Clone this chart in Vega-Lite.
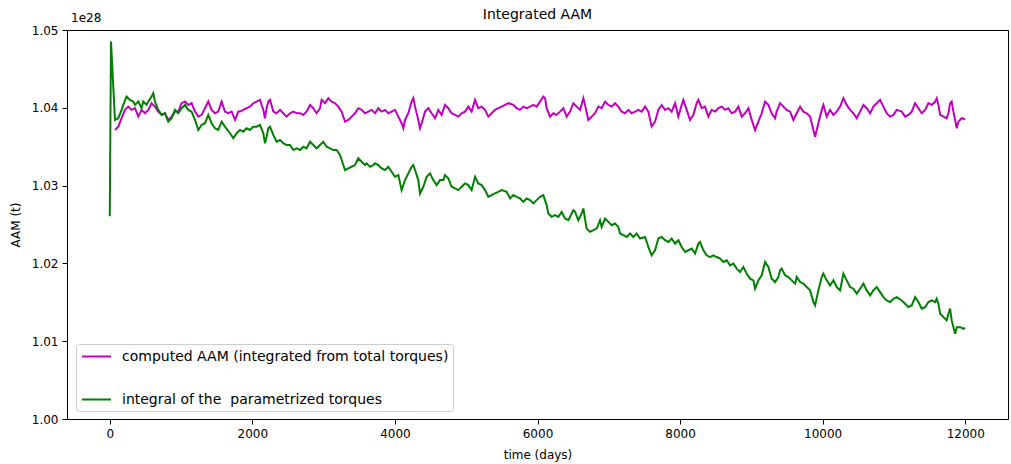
{
 "$schema": "https://vega.github.io/schema/vega-lite/v6.json",
 "width": 941,
 "height": 389,
 "autosize": {"type": "none"},
 "padding": {"left": 67, "top": 30, "right": 3, "bottom": 45},
 "background": "white",
 "title": {"text": "Integrated AAM", "fontSize": 14, "fontWeight": "normal", "font": "DejaVu Sans", "color": "#000", "offset": -10, "frame": "group", "anchor": "middle"},
 "config": {
  "view": {"stroke": "#000", "strokeWidth": 1},
  "axis": {"labelFont": "DejaVu Sans", "labelFontSize": 12, "labelColor": "#000", "titleFont": "DejaVu Sans", "titleFontSize": 12, "titleFontWeight": "normal", "titleColor": "#000", "tickColor": "#000", "tickSize": 5, "grid": false, "domain": false, "labelPadding": 4},
  "legend": {"orient": "none", "legendX": 9, "legendY": 314, "padding": 4, "strokeColor": "#cccccc", "fillColor": "#ffffff", "cornerRadius": 3, "symbolType": "M-0.87,0H3", "symbolStrokeWidth": 2, "symbolSize": 225, "labelFont": "DejaVu Sans", "labelFontSize": 14, "labelColor": "#000", "rowPadding": 27, "labelLimit": 600, "labelOffset": 25}
 },
 "encoding": {
  "x": {"field": "t", "type": "quantitative", "scale": {"domain": [-600, 12600], "nice": false, "zero": false}, "axis": {"values": [0, 2000, 4000, 6000, 8000, 10000, 12000], "format": "d", "title": "time (days)", "titlePadding": 10}},
  "y": {"field": "v", "type": "quantitative", "scale": {"domain": [1.0, 1.05], "nice": false, "zero": false}, "axis": {"values": [1.0, 1.01, 1.02, 1.03, 1.04, 1.05], "format": ".2f", "title": "AAM (t)", "titlePadding": 9}}
 },
 "layer": [
  {
   "data": {"values": [
{"t":73,"v":1.03715},{"t":119,"v":1.03758},{"t":166,"v":1.03866},{"t":213,"v":1.03973},{"t":260,"v":1.04015},{"t":306,"v":1.03973},{"t":354,"v":1.03995},{"t":400,"v":1.03887},{"t":446,"v":1.03973},{"t":494,"v":1.0393},{"t":540,"v":1.03973},{"t":586,"v":1.04059},{"t":634,"v":1.04015},{"t":680,"v":1.03951},{"t":727,"v":1.03909},{"t":774,"v":1.0393},{"t":820,"v":1.03844},{"t":867,"v":1.03887},{"t":915,"v":1.03951},{"t":961,"v":1.03951},{"t":1007,"v":1.04059},{"t":1055,"v":1.0408},{"t":1101,"v":1.04037},{"t":1148,"v":1.04059},{"t":1195,"v":1.03951},{"t":1242,"v":1.03887},{"t":1288,"v":1.03909},{"t":1336,"v":1.03995},{"t":1382,"v":1.0408},{"t":1428,"v":1.03973},{"t":1476,"v":1.0393},{"t":1522,"v":1.03951},{"t":1569,"v":1.0408},{"t":1616,"v":1.03951},{"t":1663,"v":1.0393},{"t":1709,"v":1.03951},{"t":1757,"v":1.03844},{"t":1803,"v":1.03951},{"t":1827,"v":1.03951},{"t":1873,"v":1.03973},{"t":1919,"v":1.03995},{"t":1967,"v":1.04015},{"t":2013,"v":1.04059},{"t":2060,"v":1.0408},{"t":2107,"v":1.04102},{"t":2154,"v":1.03973},{"t":2177,"v":1.03866},{"t":2200,"v":1.03995},{"t":2224,"v":1.0408},{"t":2248,"v":1.04102},{"t":2294,"v":1.03951},{"t":2340,"v":1.0393},{"t":2388,"v":1.03973},{"t":2434,"v":1.0393},{"t":2480,"v":1.03887},{"t":2528,"v":1.0393},{"t":2575,"v":1.03951},{"t":2621,"v":1.0393},{"t":2669,"v":1.0393},{"t":2715,"v":1.03909},{"t":2761,"v":1.03951},{"t":2809,"v":1.04037},{"t":2855,"v":1.03995},{"t":2901,"v":1.0393},{"t":2949,"v":1.03995},{"t":2972,"v":1.04102},{"t":3020,"v":1.04059},{"t":3066,"v":1.04124},{"t":3112,"v":1.0408},{"t":3160,"v":1.04059},{"t":3206,"v":1.04015},{"t":3252,"v":1.03951},{"t":3300,"v":1.03822},{"t":3346,"v":1.03844},{"t":3392,"v":1.03887},{"t":3440,"v":1.0393},{"t":3486,"v":1.03995},{"t":3533,"v":1.03973},{"t":3580,"v":1.0393},{"t":3627,"v":1.03951},{"t":3673,"v":1.03973},{"t":3721,"v":1.0393},{"t":3767,"v":1.03995},{"t":3813,"v":1.03951},{"t":3861,"v":1.03973},{"t":3907,"v":1.0393},{"t":3954,"v":1.03951},{"t":4001,"v":1.03973},{"t":4048,"v":1.03887},{"t":4094,"v":1.03802},{"t":4118,"v":1.03737},{"t":4142,"v":1.03844},{"t":4188,"v":1.0393},{"t":4234,"v":1.0408},{"t":4258,"v":1.04124},{"t":4282,"v":1.04015},{"t":4328,"v":1.03844},{"t":4352,"v":1.03737},{"t":4375,"v":1.03802},{"t":4422,"v":1.03951},{"t":4469,"v":1.03995},{"t":4515,"v":1.0393},{"t":4563,"v":1.03866},{"t":4609,"v":1.03973},{"t":4655,"v":1.03909},{"t":4703,"v":1.04037},{"t":4749,"v":1.03995},{"t":4795,"v":1.0393},{"t":4843,"v":1.03909},{"t":4889,"v":1.03887},{"t":4936,"v":1.0393},{"t":4983,"v":1.03951},{"t":5030,"v":1.04015},{"t":5076,"v":1.03951},{"t":5124,"v":1.04102},{"t":5170,"v":1.03995},{"t":5216,"v":1.04015},{"t":5264,"v":1.03973},{"t":5310,"v":1.03887},{"t":5357,"v":1.0393},{"t":5404,"v":1.03973},{"t":5451,"v":1.03995},{"t":5497,"v":1.04015},{"t":5545,"v":1.04037},{"t":5591,"v":1.04059},{"t":5661,"v":1.04037},{"t":5707,"v":1.03995},{"t":5755,"v":1.03973},{"t":5801,"v":1.04015},{"t":5848,"v":1.03995},{"t":5895,"v":1.04015},{"t":5942,"v":1.04037},{"t":5988,"v":1.04015},{"t":6036,"v":1.0408},{"t":6082,"v":1.04144},{"t":6106,"v":1.04124},{"t":6128,"v":1.03995},{"t":6176,"v":1.03887},{"t":6222,"v":1.0393},{"t":6269,"v":1.03909},{"t":6316,"v":1.03951},{"t":6363,"v":1.03995},{"t":6409,"v":1.03887},{"t":6457,"v":1.03951},{"t":6503,"v":1.04059},{"t":6549,"v":1.04015},{"t":6597,"v":1.03973},{"t":6643,"v":1.04124},{"t":6667,"v":1.04037},{"t":6713,"v":1.03844},{"t":6760,"v":1.03887},{"t":6807,"v":1.0393},{"t":6854,"v":1.04015},{"t":6900,"v":1.03995},{"t":6948,"v":1.0408},{"t":6994,"v":1.04037},{"t":7040,"v":1.04015},{"t":7088,"v":1.04059},{"t":7134,"v":1.04015},{"t":7181,"v":1.03951},{"t":7228,"v":1.0393},{"t":7275,"v":1.03973},{"t":7321,"v":1.0393},{"t":7369,"v":1.03951},{"t":7415,"v":1.03973},{"t":7461,"v":1.03951},{"t":7509,"v":1.04015},{"t":7555,"v":1.03951},{"t":7601,"v":1.03758},{"t":7649,"v":1.03822},{"t":7695,"v":1.03973},{"t":7742,"v":1.04037},{"t":7789,"v":1.03973},{"t":7836,"v":1.03995},{"t":7882,"v":1.03951},{"t":7930,"v":1.04059},{"t":7976,"v":1.03887},{"t":8022,"v":1.04037},{"t":8046,"v":1.04102},{"t":8093,"v":1.03973},{"t":8140,"v":1.03844},{"t":8186,"v":1.03909},{"t":8233,"v":1.04059},{"t":8257,"v":1.04102},{"t":8303,"v":1.03995},{"t":8351,"v":1.04015},{"t":8397,"v":1.03887},{"t":8443,"v":1.03973},{"t":8491,"v":1.03951},{"t":8538,"v":1.03995},{"t":8584,"v":1.04015},{"t":8631,"v":1.03973},{"t":8677,"v":1.03995},{"t":8724,"v":1.0393},{"t":8772,"v":1.03951},{"t":8818,"v":1.04015},{"t":8864,"v":1.03887},{"t":8912,"v":1.0393},{"t":8959,"v":1.03995},{"t":9005,"v":1.03844},{"t":9052,"v":1.03715},{"t":9098,"v":1.03822},{"t":9145,"v":1.0393},{"t":9192,"v":1.0408},{"t":9239,"v":1.04037},{"t":9285,"v":1.0393},{"t":9333,"v":1.03866},{"t":9355,"v":1.03951},{"t":9403,"v":1.04059},{"t":9449,"v":1.04015},{"t":9496,"v":1.03973},{"t":9543,"v":1.03951},{"t":9590,"v":1.03844},{"t":9636,"v":1.0393},{"t":9684,"v":1.04015},{"t":9729,"v":1.03951},{"t":9776,"v":1.0393},{"t":9824,"v":1.03887},{"t":9870,"v":1.03715},{"t":9894,"v":1.03629},{"t":9940,"v":1.03802},{"t":9987,"v":1.03973},{"t":10010,"v":1.04037},{"t":10057,"v":1.03887},{"t":10104,"v":1.03973},{"t":10151,"v":1.03909},{"t":10197,"v":1.03951},{"t":10245,"v":1.04015},{"t":10291,"v":1.04124},{"t":10337,"v":1.04037},{"t":10385,"v":1.03973},{"t":10431,"v":1.0393},{"t":10478,"v":1.03866},{"t":10525,"v":1.03951},{"t":10572,"v":1.04037},{"t":10618,"v":1.03995},{"t":10666,"v":1.0393},{"t":10712,"v":1.04015},{"t":10758,"v":1.04059},{"t":10806,"v":1.04102},{"t":10852,"v":1.04015},{"t":10898,"v":1.0393},{"t":10946,"v":1.03887},{"t":10993,"v":1.03909},{"t":11039,"v":1.03973},{"t":11109,"v":1.03951},{"t":11157,"v":1.03887},{"t":11203,"v":1.03909},{"t":11249,"v":1.03951},{"t":11297,"v":1.04059},{"t":11343,"v":1.03995},{"t":11390,"v":1.0393},{"t":11437,"v":1.03973},{"t":11484,"v":1.04059},{"t":11530,"v":1.04037},{"t":11578,"v":1.0408},{"t":11600,"v":1.04124},{"t":11624,"v":1.04037},{"t":11648,"v":1.03909},{"t":11694,"v":1.03887},{"t":11740,"v":1.03866},{"t":11764,"v":1.0393},{"t":11788,"v":1.04059},{"t":11810,"v":1.0408},{"t":11834,"v":1.03951},{"t":11858,"v":1.03844},{"t":11881,"v":1.03737},{"t":11904,"v":1.03822},{"t":11951,"v":1.03866},{"t":11999,"v":1.03853}
   ]},
   "mark": {"type": "line", "strokeWidth": 2},
   "encoding": {
    "color": {"datum": "computed AAM (integrated from total torques)", "type": "nominal", "scale": {"domain": ["computed AAM (integrated from total torques)", "integral of the \u00a0parametrized torques"], "range": ["#bf00bf", "#008000"]}, "legend": {"title": null}}
   }
  },
  {
   "data": {"values": [
{"t":0,"v":1.02607},{"t":17,"v":1.04853},{"t":73,"v":1.03844},{"t":119,"v":1.03866},{"t":166,"v":1.03973},{"t":189,"v":1.04037},{"t":236,"v":1.04144},{"t":283,"v":1.04102},{"t":330,"v":1.0408},{"t":354,"v":1.04037},{"t":400,"v":1.0408},{"t":446,"v":1.03995},{"t":470,"v":1.0408},{"t":516,"v":1.04037},{"t":540,"v":1.0408},{"t":586,"v":1.04144},{"t":610,"v":1.04188},{"t":634,"v":1.0408},{"t":680,"v":1.03973},{"t":727,"v":1.03909},{"t":774,"v":1.0393},{"t":820,"v":1.03822},{"t":867,"v":1.03866},{"t":915,"v":1.03973},{"t":961,"v":1.0393},{"t":1007,"v":1.03995},{"t":1055,"v":1.04037},{"t":1101,"v":1.03973},{"t":1148,"v":1.03951},{"t":1195,"v":1.03844},{"t":1242,"v":1.03715},{"t":1288,"v":1.0378},{"t":1336,"v":1.03802},{"t":1382,"v":1.03909},{"t":1428,"v":1.03802},{"t":1476,"v":1.03737},{"t":1522,"v":1.03715},{"t":1569,"v":1.03822},{"t":1616,"v":1.03758},{"t":1686,"v":1.03673},{"t":1733,"v":1.03608},{"t":1779,"v":1.03673},{"t":1827,"v":1.03715},{"t":1873,"v":1.03693},{"t":1919,"v":1.03737},{"t":1967,"v":1.03715},{"t":2013,"v":1.03758},{"t":2060,"v":1.03758},{"t":2107,"v":1.0378},{"t":2154,"v":1.03673},{"t":2177,"v":1.03544},{"t":2200,"v":1.03629},{"t":2224,"v":1.03737},{"t":2248,"v":1.03758},{"t":2294,"v":1.03651},{"t":2340,"v":1.03564},{"t":2388,"v":1.03586},{"t":2434,"v":1.03544},{"t":2480,"v":1.03522},{"t":2528,"v":1.03522},{"t":2575,"v":1.03457},{"t":2621,"v":1.03479},{"t":2669,"v":1.03457},{"t":2715,"v":1.035},{"t":2761,"v":1.03479},{"t":2809,"v":1.03564},{"t":2855,"v":1.03522},{"t":2901,"v":1.03479},{"t":2949,"v":1.03522},{"t":2995,"v":1.03564},{"t":3042,"v":1.035},{"t":3089,"v":1.03479},{"t":3136,"v":1.03457},{"t":3182,"v":1.03457},{"t":3230,"v":1.03393},{"t":3276,"v":1.03264},{"t":3300,"v":1.032},{"t":3346,"v":1.03222},{"t":3392,"v":1.03242},{"t":3440,"v":1.03264},{"t":3486,"v":1.03351},{"t":3533,"v":1.03307},{"t":3580,"v":1.03264},{"t":3603,"v":1.03286},{"t":3651,"v":1.03242},{"t":3697,"v":1.03264},{"t":3721,"v":1.03286},{"t":3767,"v":1.03264},{"t":3813,"v":1.03222},{"t":3861,"v":1.032},{"t":3907,"v":1.03242},{"t":3954,"v":1.03178},{"t":4001,"v":1.03113},{"t":4048,"v":1.03135},{"t":4094,"v":1.02942},{"t":4142,"v":1.03071},{"t":4188,"v":1.03157},{"t":4234,"v":1.03242},{"t":4258,"v":1.03264},{"t":4282,"v":1.032},{"t":4328,"v":1.03071},{"t":4352,"v":1.02899},{"t":4398,"v":1.02985},{"t":4445,"v":1.03113},{"t":4492,"v":1.03157},{"t":4538,"v":1.03071},{"t":4585,"v":1.03006},{"t":4633,"v":1.03071},{"t":4679,"v":1.03071},{"t":4703,"v":1.03135},{"t":4749,"v":1.03093},{"t":4795,"v":1.02985},{"t":4843,"v":1.02964},{"t":4889,"v":1.02942},{"t":4936,"v":1.02985},{"t":4983,"v":1.03028},{"t":5030,"v":1.03006},{"t":5076,"v":1.02942},{"t":5124,"v":1.03113},{"t":5170,"v":1.03028},{"t":5216,"v":1.03006},{"t":5264,"v":1.02942},{"t":5310,"v":1.02856},{"t":5357,"v":1.02878},{"t":5404,"v":1.02899},{"t":5451,"v":1.0292},{"t":5497,"v":1.02942},{"t":5567,"v":1.0292},{"t":5615,"v":1.02835},{"t":5661,"v":1.02878},{"t":5707,"v":1.02856},{"t":5755,"v":1.02835},{"t":5801,"v":1.02791},{"t":5848,"v":1.02835},{"t":5895,"v":1.02813},{"t":5942,"v":1.02771},{"t":5988,"v":1.02813},{"t":6036,"v":1.02856},{"t":6082,"v":1.02878},{"t":6128,"v":1.02749},{"t":6152,"v":1.02642},{"t":6198,"v":1.02598},{"t":6246,"v":1.0262},{"t":6292,"v":1.02598},{"t":6339,"v":1.02662},{"t":6386,"v":1.02577},{"t":6433,"v":1.02555},{"t":6479,"v":1.02642},{"t":6503,"v":1.02684},{"t":6527,"v":1.02662},{"t":6573,"v":1.02555},{"t":6619,"v":1.02642},{"t":6643,"v":1.02706},{"t":6689,"v":1.02448},{"t":6737,"v":1.02405},{"t":6784,"v":1.02427},{"t":6830,"v":1.02448},{"t":6877,"v":1.02555},{"t":6900,"v":1.02469},{"t":6948,"v":1.02577},{"t":6994,"v":1.02534},{"t":7040,"v":1.02491},{"t":7088,"v":1.02513},{"t":7134,"v":1.02469},{"t":7158,"v":1.02384},{"t":7204,"v":1.02362},{"t":7251,"v":1.0234},{"t":7298,"v":1.02384},{"t":7345,"v":1.0234},{"t":7391,"v":1.02384},{"t":7439,"v":1.0232},{"t":7509,"v":1.0234},{"t":7555,"v":1.02211},{"t":7601,"v":1.02104},{"t":7649,"v":1.02169},{"t":7695,"v":1.0232},{"t":7742,"v":1.0234},{"t":7789,"v":1.02298},{"t":7836,"v":1.02276},{"t":7882,"v":1.0232},{"t":7930,"v":1.02255},{"t":7976,"v":1.02298},{"t":8022,"v":1.02211},{"t":8070,"v":1.02147},{"t":8117,"v":1.02169},{"t":8163,"v":1.02191},{"t":8210,"v":1.02126},{"t":8257,"v":1.02255},{"t":8280,"v":1.02276},{"t":8327,"v":1.02169},{"t":8373,"v":1.02104},{"t":8421,"v":1.02082},{"t":8467,"v":1.02104},{"t":8513,"v":1.02082},{"t":8561,"v":1.02062},{"t":8607,"v":1.02018},{"t":8654,"v":1.0204},{"t":8701,"v":1.01975},{"t":8748,"v":1.01997},{"t":8794,"v":1.01933},{"t":8842,"v":1.01889},{"t":8888,"v":1.01954},{"t":8934,"v":1.01869},{"t":8982,"v":1.01804},{"t":9028,"v":1.01782},{"t":9052,"v":1.01675},{"t":9098,"v":1.01782},{"t":9145,"v":1.01847},{"t":9192,"v":1.02018},{"t":9239,"v":1.01954},{"t":9285,"v":1.01804},{"t":9333,"v":1.0176},{"t":9379,"v":1.01825},{"t":9403,"v":1.01911},{"t":9425,"v":1.01933},{"t":9473,"v":1.01847},{"t":9519,"v":1.01825},{"t":9566,"v":1.01782},{"t":9613,"v":1.0174},{"t":9636,"v":1.01825},{"t":9684,"v":1.0176},{"t":9729,"v":1.0174},{"t":9776,"v":1.01696},{"t":9824,"v":1.01653},{"t":9870,"v":1.01503},{"t":9894,"v":1.0146},{"t":9940,"v":1.01653},{"t":9987,"v":1.01825},{"t":10010,"v":1.01869},{"t":10057,"v":1.01782},{"t":10104,"v":1.01718},{"t":10151,"v":1.01782},{"t":10197,"v":1.01696},{"t":10245,"v":1.01653},{"t":10291,"v":1.01869},{"t":10337,"v":1.01782},{"t":10385,"v":1.01696},{"t":10431,"v":1.01675},{"t":10478,"v":1.01611},{"t":10525,"v":1.01675},{"t":10572,"v":1.0174},{"t":10618,"v":1.01653},{"t":10666,"v":1.01589},{"t":10712,"v":1.01653},{"t":10758,"v":1.01696},{"t":10806,"v":1.01631},{"t":10852,"v":1.01567},{"t":10898,"v":1.01524},{"t":10946,"v":1.01503},{"t":10993,"v":1.01546},{"t":11039,"v":1.01567},{"t":11109,"v":1.01524},{"t":11157,"v":1.01482},{"t":11203,"v":1.01438},{"t":11249,"v":1.0146},{"t":11297,"v":1.01567},{"t":11343,"v":1.01503},{"t":11390,"v":1.01418},{"t":11437,"v":1.01438},{"t":11484,"v":1.01503},{"t":11530,"v":1.01524},{"t":11578,"v":1.01503},{"t":11600,"v":1.01546},{"t":11624,"v":1.01482},{"t":11648,"v":1.01353},{"t":11694,"v":1.01309},{"t":11740,"v":1.01267},{"t":11764,"v":1.01353},{"t":11788,"v":1.01418},{"t":11810,"v":1.01267},{"t":11858,"v":1.01095},{"t":11881,"v":1.0118},{"t":11929,"v":1.0118},{"t":11975,"v":1.0116},{"t":11999,"v":1.01173}
   ]},
   "mark": {"type": "line", "strokeWidth": 2},
   "encoding": {
    "color": {"datum": "integral of the \u00a0parametrized torques", "type": "nominal"}
   }
  },
  {
   "data": {"values": [{"label": "1e28", "t": -600, "v": 1.05}]},
   "mark": {"type": "text", "align": "left", "baseline": "bottom", "dx": 4, "dy": -5, "font": "DejaVu Sans", "fontSize": 12, "fill": "#000000"},
   "encoding": {
    "text": {"field": "label", "type": "nominal"}
   }
  }
 ]
}
